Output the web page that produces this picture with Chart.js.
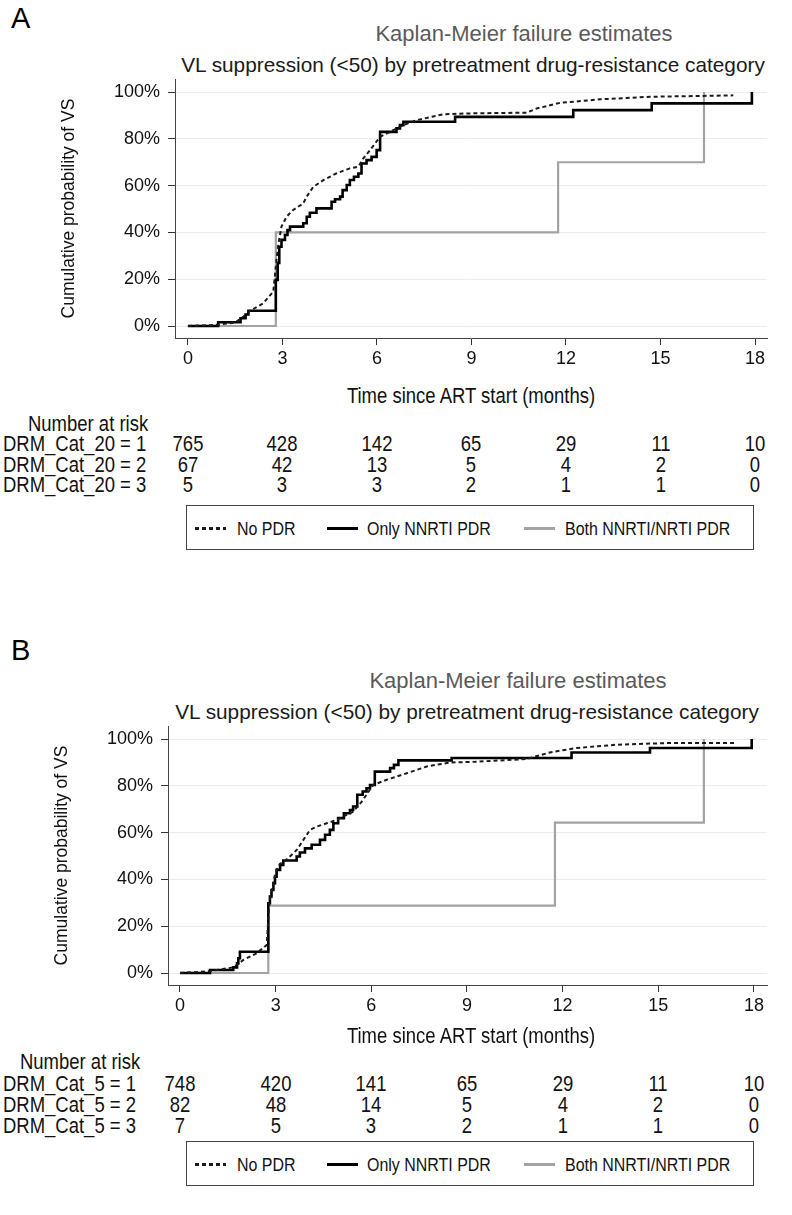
<!DOCTYPE html>
<html>
<head>
<meta charset="utf-8">
<script src="https://cdn.jsdelivr.net/npm/chart.js@4.4.0/dist/chart.umd.min.js"></script>
<style>
  body { margin: 0; background: #fff; }
  #page { position: relative; width: 792px; height: 1215px; overflow: hidden;
          font-family: "Liberation Sans", Arial, sans-serif; color: #111; background: #fff; }
  .abs { position: absolute; white-space: nowrap; line-height: 1; }
  .letter { font-size: 29px; color: #000; }
  .title { font-size: 22px; color: #5a5a5a; }
  .subtitle { font-size: 20.8px; color: #1a1a1a; }
  .narrow { font-size: 22px; color: #111; }
  .legend { position: absolute; border: 1px solid #444; box-sizing: border-box; }
  .sample { position: absolute; height: 2.5px; }
</style>
</head>
<body>
<div id="page"></div>
<script>
// ---- data ----
const timeTicks = [0, 3, 6, 9, 12, 15, 18];
const pctTicks = [0, 20, 40, 60, 80, 100];
const seriesNames = ['No PDR', 'Only NNRTI PDR', 'Both NNRTI/NRTI PDR'];

// panel A: DRM_Cat_20
const aNoPdrT = [0, 0.91, 1.5, 1.86, 1.97, 2.39, 2.71, 2.81, 2.87, 2.97, 3.13, 3.34, 3.66, 3.77, 3.98, 4.30, 4.72, 5.14, 5.41, 5.57, 5.78, 6.10, 6.41, 6.84, 7.26, 8.10, 8.95, 10.75, 11.07, 11.81, 13.08, 14.67, 17.31];
const aNoPdrP = [0, 0.5, 1.5, 5, 6.5, 9.7, 14.7, 28, 35, 42.5, 46.7, 49.6, 52.4, 55.3, 59.5, 62.4, 65.3, 67.4, 68.1, 71.7, 75.2, 80.9, 83, 85.9, 88, 90.5, 90.9, 91.2, 93, 95.4, 96.9, 98, 98.6];
const aNnrtiT = [0, 0.96, 1.67, 1.83, 1.92, 2.79, 2.85, 2.90, 2.97, 3.08, 3.16, 3.24, 3.66, 3.77, 3.87, 4.08, 4.56, 4.67, 4.83, 4.91, 5.04, 5.14, 5.27, 5.41, 5.51, 5.67, 5.83, 5.99, 6.10, 6.62, 6.73, 6.84, 8.48, 12.23, 14.72, 17.9];
const aNnrtiP = [0, 1.6, 3.3, 4.9, 6.5, 19.7, 27, 33.9, 36.8, 38.9, 41, 42.5, 43.9, 46.7, 48.4, 50.3, 53.1, 54.2, 55.3, 58.1, 60.3, 62.4, 63.8, 65.2, 69.5, 70.9, 72.3, 75.2, 83.0, 84.5, 85.9, 87.3, 89.4, 92.3, 95.2, 100];
const aBothT = [0, 2.79, 11.75, 16.38];
const aBothP = [0, 40, 70, 100];
const aRiskLabels = ['DRM_Cat_20 = 1', 'DRM_Cat_20 = 2', 'DRM_Cat_20 = 3'];
const aRisk1 = [765, 428, 142, 65, 29, 11, 10];
const aRisk2 = [67, 42, 13, 5, 4, 2, 0];
const aRisk3 = [5, 3, 3, 2, 1, 1, 0];

// panel B: DRM_Cat_5
const bNoPdrT = [0, 0.94, 1.67, 1.99, 2.40, 2.72, 2.80, 2.95, 3.03, 3.14, 3.34, 3.66, 3.87, 4.08, 4.29, 4.60, 4.86, 5.12, 5.43, 5.70, 6.06, 6.48, 7.11, 7.74, 8.47, 9.09, 10.87, 11.60, 12.44, 13.69, 15.26, 17.40];
const bNoPdrP = [0, 0.8, 2.4, 5.6, 8.4, 12, 30, 40, 44, 46.7, 48.4, 52.6, 56.9, 61.2, 62.6, 64, 65.2, 66.9, 69, 73.3, 80.4, 82.6, 85.4, 88.3, 90, 90.2, 91.5, 94.3, 96.2, 97.6, 98.3, 98.3];
const bNnrtiT = [0, 0.94, 1.67, 1.79, 1.83, 1.88, 2.77, 2.82, 2.87, 2.93, 2.98, 3.03, 3.14, 3.24, 3.66, 3.76, 3.92, 4.13, 4.39, 4.55, 4.70, 4.81, 4.96, 5.14, 5.33, 5.43, 5.56, 5.73, 5.85, 5.96, 6.11, 6.59, 6.71, 6.85, 8.52, 12.28, 14.74, 17.93];
const bNnrtiP = [0, 1.3, 2.4, 4.1, 6.3, 9.1, 29.8, 32.7, 35.5, 38.4, 41.2, 44.1, 46.2, 48.1, 49.8, 51.5, 53.3, 54.8, 56.9, 59.1, 61.2, 64.0, 66.2, 68.3, 69.7, 71.2, 76.2, 77.6, 79.0, 80.4, 86.1, 87.6, 89.0, 90.9, 91.9, 94.3, 96.2, 100];
const bBothT = [0, 2.77, 11.76, 16.43];
const bBothP = [0, 28.8, 64.3, 100];
const bRiskLabels = ['DRM_Cat_5 = 1', 'DRM_Cat_5 = 2', 'DRM_Cat_5 = 3'];
const bRisk1 = [748, 420, 141, 65, 29, 11, 10];
const bRisk2 = [82, 48, 14, 5, 4, 2, 0];
const bRisk3 = [7, 5, 3, 2, 1, 1, 0];

const page = document.getElementById('page');

function addText(cls, text, x, y, align, scaleX) {
    const el = document.createElement('div');
    el.className = 'abs ' + cls;
    el.textContent = text;
    el.style.left = x + 'px';
    el.style.top = y + 'px';
    let tf = align === 'center' ? 'translate(-50%,-50%)' : (align === 'right' ? 'translate(-100%,-50%)' : 'translate(0,-50%)');
    if (scaleX) {
        tf += ` scaleX(${scaleX})`;
        el.style.transformOrigin = align === 'center' ? '50% 50%' : (align === 'right' ? '100% 50%' : '0 50%');
    }
    el.style.transform = tf;
    page.appendChild(el);
    return el;
}

const toPoints = (ts, ps) => ts.map((t, i) => ({ x: t, y: ps[i] }));
const NARROW = 0.84;

function buildPanel(p) {
    const top = p.top;
    const L = p.lay;
    addText('letter', p.letter, 11, L.letter, 'left');
    addText('title', 'Kaplan-Meier failure estimates', p.titleX, top + 34, 'center');
    addText('subtitle', 'VL suppression (<50) by pretreatment drug-resistance category', p.subX, top + 65, 'center');

    // canvas spans y = top+70 .. top+380; chart area forced to top+79 .. top+338
    const box = document.createElement('div');
    box.style.cssText = `position:absolute;left:0;top:${top + 70}px;width:792px;height:310px;`;
    const canvas = document.createElement('canvas');
    canvas.width = 792;
    canvas.height = 310;
    box.appendChild(canvas);
    page.appendChild(box);

    const chart = new Chart(canvas.getContext('2d'), {
        type: 'line',
        data: {
            datasets: [
                {
                    label: seriesNames[0],
                    data: toPoints(p.noT, p.noP),
                    borderColor: '#1a1a1a',
                    borderWidth: 2,
                    borderDash: [4, 3],
                    pointRadius: 0,
                    tension: 0
                },
                {
                    label: seriesNames[1],
                    data: toPoints(p.nnT, p.nnP),
                    borderColor: '#000',
                    borderWidth: 2.6,
                    stepped: 'before',
                    pointRadius: 0
                },
                {
                    label: seriesNames[2],
                    data: toPoints(p.boT, p.boP),
                    borderColor: '#a3a3a3',
                    borderWidth: 2.2,
                    stepped: 'before',
                    pointRadius: 0
                }
            ]
        },
        options: {
            responsive: false,
            animation: false,
            devicePixelRatio: 1,
            layout: { padding: { left: p.padLeft, right: 25, top: 9, bottom: 2 } },
            plugins: { legend: { display: false }, tooltip: { enabled: false } },
            scales: {
                x: {
                    type: 'linear',
                    min: p.xMin,
                    max: p.xMax,
                    afterBuildTicks: s => { s.ticks = timeTicks.map(v => ({ value: v })); },
                    afterFit: s => { s.height = 40; s.paddingLeft = 0; s.paddingRight = 0; },
                    grid: { drawOnChartArea: false, drawTicks: true, tickLength: 7, tickColor: '#333' },
                    border: { display: true, color: '#444', width: 1 },
                    ticks: { color: '#111', padding: 3, font: { family: 'Liberation Sans', size: 18 } }
                },
                y: {
                    type: 'linear',
                    min: -5.13,
                    max: 105.6,
                    afterBuildTicks: s => { s.ticks = pctTicks.map(v => ({ value: v })); },
                    afterFit: s => { s.width = p.yWidth; s.paddingTop = 0; s.paddingBottom = 0; },
                    grid: { color: '#ebebeb', lineWidth: 1, tickLength: 7, tickColor: '#333' },
                    border: { display: true, color: '#444', width: 1 },
                    ticks: { color: '#111', padding: 8, font: { family: 'Liberation Sans', size: 18 },
                             callback: v => v + '%' },
                    title: { display: true, text: 'Cumulative probability of VS', color: '#111',
                             padding: { top: 4, bottom: 4 }, font: { family: 'Liberation Sans', size: 17.5 } }
                }
            }
        }
    });

    const xs = chart.scales.x;
    addText('narrow', 'Time since ART start (months)', 471, L.xTitle, 'center', NARROW);
    addText('narrow', 'Number at risk', p.narX, L.nar, 'left', NARROW);
    p.riskRows.forEach((row, r) => {
        addText('narrow', p.riskLabels[r], 3, L.rows[r], 'left', NARROW);
        row.forEach((n, i) => {
            addText('narrow', String(n), xs.getPixelForValue(timeTicks[i]), L.rows[r], 'center', NARROW);
        });
    });

    // legend box
    const lg = document.createElement('div');
    lg.className = 'legend';
    lg.style.left = '186px';
    lg.style.top = L.legTop + 'px';
    lg.style.width = '568px';
    lg.style.height = '45px';
    page.appendChild(lg);
    const sampleX = [195, 327, 524];
    const textX = [237, 367, 565];
    const sampleBg = [
        'repeating-linear-gradient(to right,#1a1a1a 0 4px,transparent 4px 7px)',
        '#000',
        '#a3a3a3'
    ];
    seriesNames.forEach((name, i) => {
        const s = document.createElement('div');
        s.className = 'sample';
        s.style.left = sampleX[i] + 'px';
        s.style.top = (L.legTop + 22) + 'px';
        s.style.width = '31px';
        s.style.background = sampleBg[i];
        page.appendChild(s);
        const t = addText('narrow', name, textX[i], L.legTop + 23, 'left', NARROW);
        t.style.fontSize = '19px';
    });
}

buildPanel({
    top: 0, letter: 'A', titleX: 524, subX: 473, padLeft: 55, yWidth: 120,
    xMin: -0.41, xMax: 18.38,
    lay: { letter: 18, xTitle: 396, nar: 424, rows: [444, 464.5, 485], legTop: 505 },
    noT: aNoPdrT, noP: aNoPdrP, nnT: aNnrtiT, nnP: aNnrtiP, boT: aBothT, boP: aBothP,
    riskLabels: aRiskLabels, riskRows: [aRisk1, aRisk2, aRisk3], narX: 28
});
buildPanel({
    top: 647, letter: 'B', titleX: 518, subX: 467, padLeft: 48, yWidth: 120,
    xMin: -0.376, xMax: 18.41,
    lay: { letter: 650, xTitle: 1036, nar: 1062, rows: [1084, 1105, 1126], legTop: 1141 },
    noT: bNoPdrT, noP: bNoPdrP, nnT: bNnrtiT, nnP: bNnrtiP, boT: bBothT, boP: bBothP,
    riskLabels: bRiskLabels, riskRows: [bRisk1, bRisk2, bRisk3], narX: 20
});
</script>
</body>
</html>
